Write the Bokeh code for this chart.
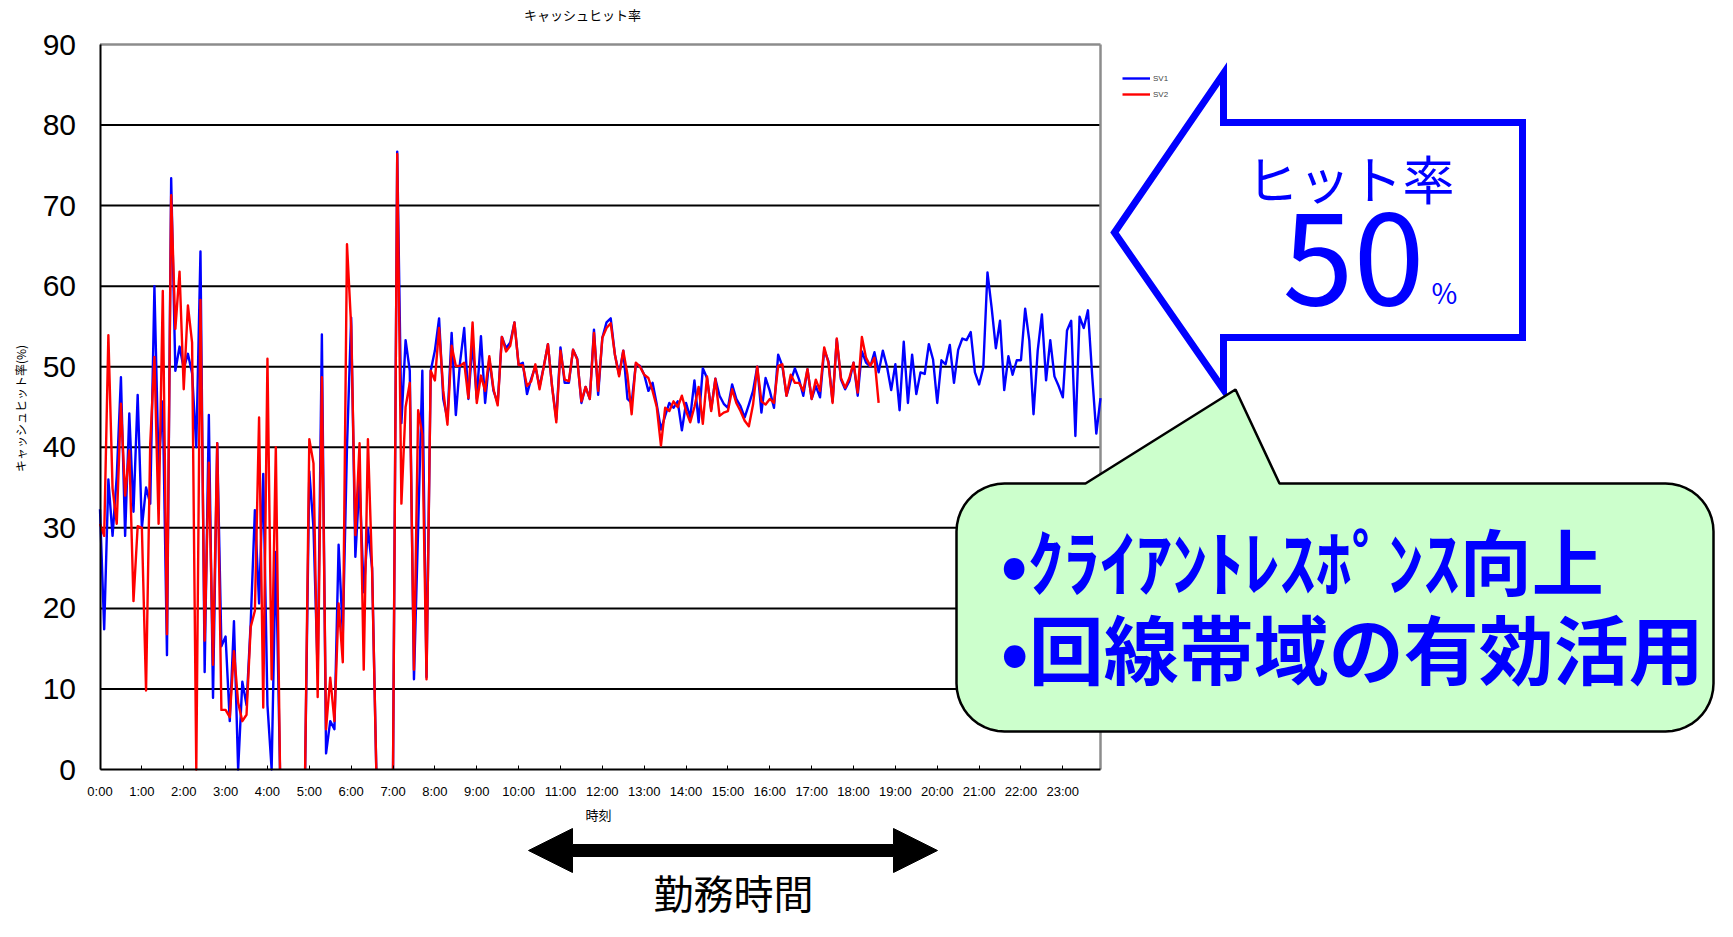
import numpy as np
from bokeh.plotting import figure
from bokeh.models import (FixedTicker, Legend, LegendItem, Label, PolyAnnotation, Range1d)
from bokeh.embed import file_html
from bokeh.resources import INLINE

# ---------------- data ----------------
title_text = "キャッシュヒット率"
y_title = "キャッシュヒット率(%)"
x_title = "時刻"
series_names = ["SV1", "SV2"]
hour_ticks = [0, 1, 2, 3, 4, 5, 6, 7, 8, 9, 10, 11, 12, 13, 14, 15, 16, 17, 18, 19, 20, 21, 22, 23]
hour_labels = ["0:00", "1:00", "2:00", "3:00", "4:00", "5:00", "6:00", "7:00", "8:00", "9:00",
               "10:00", "11:00", "12:00", "13:00", "14:00", "15:00", "16:00", "17:00", "18:00",
               "19:00", "20:00", "21:00", "22:00", "23:00"]
y_ticks = [0, 10, 20, 30, 40, 50, 60, 70, 80, 90]

# sampling every 6 minutes (240 samples over the day)
sample_minutes = list(range(0, 1440, 6))

sv1 = [
    32.3, 17.4, 36, 29, 36.4, 48.7, 29, 44.2, 32, 46.5,
    30, 35, 33, 60, 37.5, 45.7, 14.2, 73.4, 49.5, 52.5,
    49.8, 51.6, 49.2, 40, 64.3, 12.1, 44, 8.9, 40.5, 15.3,
    16.5, 6, 18.4, 0, 10.9, 8, 18.2, 32.2, 20.6, 36.7,
    8, 0, 27, 0, None, None, None, None, None, 0,
    37, 30, 12, 54, 2, 6, 5, 27.9, 16.8, 40,
    56.1, 26.4, 35.8, 22, 30, 25, 0, None, None, None,
    0, 76.7, 43, 53.3, 49.5, 11.2, 30, 49.5, 11.5, 49.5,
    52, 56, 46, 43.5, 54.2, 44, 50.5, 54.8, 46, 53,
    46, 53.8, 45.5, 51, 47, 45.5, 53.7, 52.3, 53, 55.5,
    50.2, 50.5, 46.6, 48.5, 50, 47.5, 50, 52.8, 47.5, 43.5,
    52.4, 48, 48, 52.1, 51, 45.5, 47.5, 46, 54.6, 46.5,
    53.6, 55.5, 56, 51.5, 49, 52, 46, 45.5, 50.3, 50.1,
    49, 47, 48, 45.3, 42.2, 43.9, 45.5, 44.9, 45.7, 42.1,
    45.5, 43.7, 48.3, 43.1, 49.8, 48.6, 44.7, 48.5, 46.4, 45.4,
    44.9, 47.8, 46, 45.1, 43.7, 45.3, 47, 50, 44.3, 48.6,
    47, 44.9, 51.5, 50.1, 46.4, 48.2, 49.8, 48.4, 46.4, 49.7,
    46, 47.6, 46.2, 52.1, 50.7, 45.7, 53.4, 48.4, 47.2, 48.2,
    50.5, 46.4, 51.9, 50.5, 50, 51.8, 49.3, 52, 50, 47.1,
    50.3, 44.6, 53.1, 45.5, 51.5, 46.6, 49.3, 49.1, 52.8, 50.9,
    45.5, 50.8, 50.3, 52.7, 48, 52.1, 53.5, 53.3, 54.3, 49.3,
    47.8, 49.9, 61.7, 57.3, 52.3, 55.7, 47.1, 51.3, 49, 50.8,
    50.8, 57.2, 53.2, 44.1, 52, 56.5, 48.3, 53.3, 48.8, 47.6,
    46.2, 54.5, 55.7, 41.4, 56.2, 54.8, 57, 49, 41.7, 46.1,
]

sv2 = [
    30.5, 29, 53.9, 34.9, 30.5, 45.4, 34, 39.6, 20.9, 30.2,
    30, 9.8, 40.5, 51.2, 30.5, 59.4, 16.8, 71.3, 54.7, 61.8,
    47.2, 57.6, 53, 0, 58.3, 16, 38.1, 13, 40.5, 7.4,
    7.4, 6.5, 14.7, 8.3, 6, 6.8, 17.7, 19.7, 43.7, 7.7,
    51, 11.2, 40, 0, None, None, None, None, None, 0,
    41, 38, 9, 48.7, 5, 11.4, 6, 20.6, 13.3, 65.2,
    55, 29.1, 40.5, 12.4, 41, 24.7, 0, None, None, None,
    0, 76.4, 33, 45, 48, 12.4, 44.6, 41.6, 11.2, 49.5,
    48.3, 54.8, 47, 42.8, 52.6, 50.1, 50.1, 50.5, 46.1, 55.5,
    45.5, 48.9, 47, 51.3, 47.2, 45.2, 53.7, 51.9, 52.6, 55.5,
    50.2, 50.2, 47.6, 48.2, 50.3, 47.2, 50, 52.8, 47.5, 43.1,
    52, 48.4, 48.2, 52.1, 50.9, 45.7, 47.5, 46, 54.2, 47,
    53.6, 54.8, 55.4, 51.5, 48.8, 52, 49, 44.1, 50.5, 50,
    49, 48.6, 47, 45, 40.2, 44.9, 44.5, 45.7, 45, 46.4,
    44.5, 43.1, 45, 47.5, 42.9, 48.8, 44.5, 48.5, 43.9, 44.3,
    44.5, 47.2, 45.5, 44.5, 43.3, 42.6, 45.3, 50, 45.7, 45.3,
    46, 45.5, 50.1, 50.3, 46.4, 49, 48, 48, 47, 49.7,
    46, 48.4, 47, 52.4, 50.5, 45.5, 53.5, 48.6, 47.4, 48.6,
    50.5, 46.8, 53.7, 51.1, 50.1, 51.1, 45.5, None, None, None,
] + [None] * 50

callout_title = "ヒット率"
callout_value = "50"
callout_unit = "%"
bubble_lines = ["•ｸﾗｲｱﾝﾄﾚｽﾎﾟﾝｽ向上", "•回線帯域の有効活用"]
bottom_text = "勤務時間"

# ---------------- layout (page pixels) ----------------
W, H = 1717, 921
CL, CR, CT, CB = 99.5, 1100.0, 44.0, 769.0      # chart area on the page
x_hours = np.array(sample_minutes, dtype=float) / 60.0
X0, X1 = 0.0, float(x_hours[-1])
Y0, Y1 = float(y_ticks[0]), float(y_ticks[-1])
kx = (CR - CL) / (X1 - X0)
ky = (CB - CT) / (Y1 - Y0)
xs, xe = X0 - CL / kx, X1 + (W - CR) / kx
ys, ye = Y0 - (H - CB) / ky, Y1 + CT / ky


def dx(cx):
    return xs + cx / kx


def dy(cy):
    return ye - cy / ky


p = figure(width=W, height=H, output_backend="svg", toolbar_location=None,
           x_range=Range1d(xs, xe), y_range=Range1d(ys, ye), min_border=0,
           background_fill_color="white", border_fill_color="white")
p.outline_line_color = None
p.xgrid.visible = False
p.ygrid.visible = False

# horizontal grid lines, bounded to the chart's x extent
inner = y_ticks[1:-1]
p.segment(x0=[X0] * len(inner), x1=[X1] * len(inner), y0=inner, y1=inner,
          line_color="black", line_width=2)
# grey top and right frame of the chart area
p.segment(x0=[X0, X1], x1=[X1, X1], y0=[Y1, Y0], y1=[Y1, Y1],
          line_color="#8c8c8c", line_width=2.5)

yax = p.yaxis[0]
yax.fixed_location = X0
yax.bounds = (Y0, Y1)
yax.ticker = FixedTicker(ticks=y_ticks)
yax.major_label_text_font = "Liberation Sans"
yax.major_label_text_font_size = "30px"
yax.major_label_text_color = "black"
yax.major_label_standoff = 24
yax.major_tick_in = 0
yax.major_tick_out = 0
yax.minor_tick_line_color = None
yax.axis_line_color = "black"
yax.axis_line_width = 2

xax = p.xaxis[0]
xax.fixed_location = Y0
xax.bounds = (X0, X1)
xax.ticker = FixedTicker(ticks=hour_ticks)
xax.major_label_overrides = {t: s for t, s in zip(hour_ticks, hour_labels)}
xax.major_label_text_font = "Liberation Sans"
xax.major_label_text_font_size = "13px"
xax.major_label_text_color = "black"
xax.major_label_standoff = 14
xax.major_tick_in = 4
xax.major_tick_out = 0
xax.major_tick_line_color = "black"
xax.minor_tick_line_color = None
xax.axis_line_color = "black"
xax.axis_line_width = 2

y1 = np.array(sv1, dtype=float)
y2 = np.array(sv2, dtype=float)
r1 = p.line(x_hours, y1, line_color="#0000ff", line_width=2.4, line_join="round")
r2 = p.line(x_hours, y2, line_color="#ff0000", line_width=2.4, line_join="round")

legend = Legend(items=[LegendItem(label=series_names[0], renderers=[r1]),
                       LegendItem(label=series_names[1], renderers=[r2])],
                location=(1122, H - 100), label_text_font_size="8px",
                label_text_font="Liberation Sans", glyph_width=28, glyph_height=12,
                spacing=4, padding=0, margin=0, label_standoff=3,
                border_line_alpha=0, background_fill_alpha=0)
p.add_layout(legend)

# chart and axis titles
p.add_layout(Label(x=dx(582), y=dy(14), text=title_text, text_align="center",
                   text_baseline="middle", text_font="Noto Sans CJK JP",
                   text_font_size="13px", text_color="black"))
p.add_layout(Label(x=dx(20), y=dy(408), text=y_title, angle=np.pi / 2, text_align="center",
                   text_baseline="middle", text_font="Noto Sans CJK JP",
                   text_font_size="12px", text_color="black"))
p.add_layout(Label(x=dx(598), y=dy(814), text=x_title, text_align="center",
                   text_baseline="middle", text_font="Noto Sans CJK JP",
                   text_font_size="13px", text_color="black"))


# ---------------- decorations ----------------
def poly(points, **kw):
    return PolyAnnotation(xs=[dx(a) for a, b in points], ys=[dy(b) for a, b in points], **kw)


# big blue outlined arrow
arrow_pts = [(1114, 232), (1223, 73), (1223, 122), (1522, 122), (1522, 337),
             (1223, 337), (1223, 389)]
p.add_layout(poly(arrow_pts, fill_color="white", fill_alpha=1.0,
                  line_color="#0000ff", line_alpha=1.0, line_width=7, line_join="miter"))

# speech bubble (rounded rectangle with a pointer)
bl, br, bt, bb, rad = 956, 1713, 483, 731, 48


def arc(cx, cy, a0, a1, n=12):
    t = np.linspace(np.radians(a0), np.radians(a1), n)
    return [(cx + rad * np.cos(a), cy - rad * np.sin(a)) for a in t]


bubble = []
bubble += arc(bl + rad, bt + rad, 180, 90)
bubble += [(1085, bt), (1235, 389), (1279, bt)]
bubble += arc(br - rad, bt + rad, 90, 0)
bubble += arc(br - rad, bb - rad, 0, -90)
bubble += arc(bl + rad, bb - rad, -90, -180)
p.add_layout(poly(bubble, fill_color="#ccffcc", fill_alpha=1.0,
                  line_color="black", line_alpha=1.0, line_width=2.5))

# bottom double-headed arrow
cy, hh, sh = 850, 22, 6
dbl = [(528, cy), (572, cy - hh), (572, cy - sh), (893, cy - sh), (893, cy - hh), (937, cy),
       (893, cy + hh), (893, cy + sh), (572, cy + sh), (572, cy + hh)]
p.add_layout(poly(dbl, fill_color="black", fill_alpha=1.0, line_color="black",
                  line_alpha=1.0, line_width=1))

# callout texts
p.add_layout(Label(x=dx(1350), y=dy(177), text=callout_title, text_align="center",
                   text_baseline="middle", text_font="Noto Sans CJK JP",
                   text_font_size="52px", text_color="#0000ff"))
p.add_layout(Label(x=dx(1353), y=dy(257), text=callout_value, text_align="center",
                   text_baseline="middle", text_font="Noto Sans CJK JP",
                   text_font_size="128px", text_color="#0000ff"))
p.add_layout(Label(x=dx(1431), y=dy(291), text=callout_unit, text_align="left",
                   text_baseline="middle", text_font="Noto Sans CJK JP",
                   text_font_size="28px", text_color="#0000ff"))
p.add_layout(Label(x=dx(1000), y=dy(558), text=bubble_lines[0], text_align="left",
                   text_baseline="middle", text_font="Noto Sans CJK JP",
                   text_font_size="72px", text_font_style="bold", text_color="#0000ff"))
p.add_layout(Label(x=dx(1000), y=dy(646), text=bubble_lines[1], text_align="left",
                   text_baseline="middle", text_font="Noto Sans CJK JP",
                   text_font_size="75px", text_font_style="bold", text_color="#0000ff"))
p.add_layout(Label(x=dx(733), y=dy(891), text=bottom_text, text_align="center",
                   text_baseline="middle", text_font="Noto Sans CJK JP",
                   text_font_size="40px", text_color="black"))

open("out.html", "w").write(file_html(p, INLINE))
